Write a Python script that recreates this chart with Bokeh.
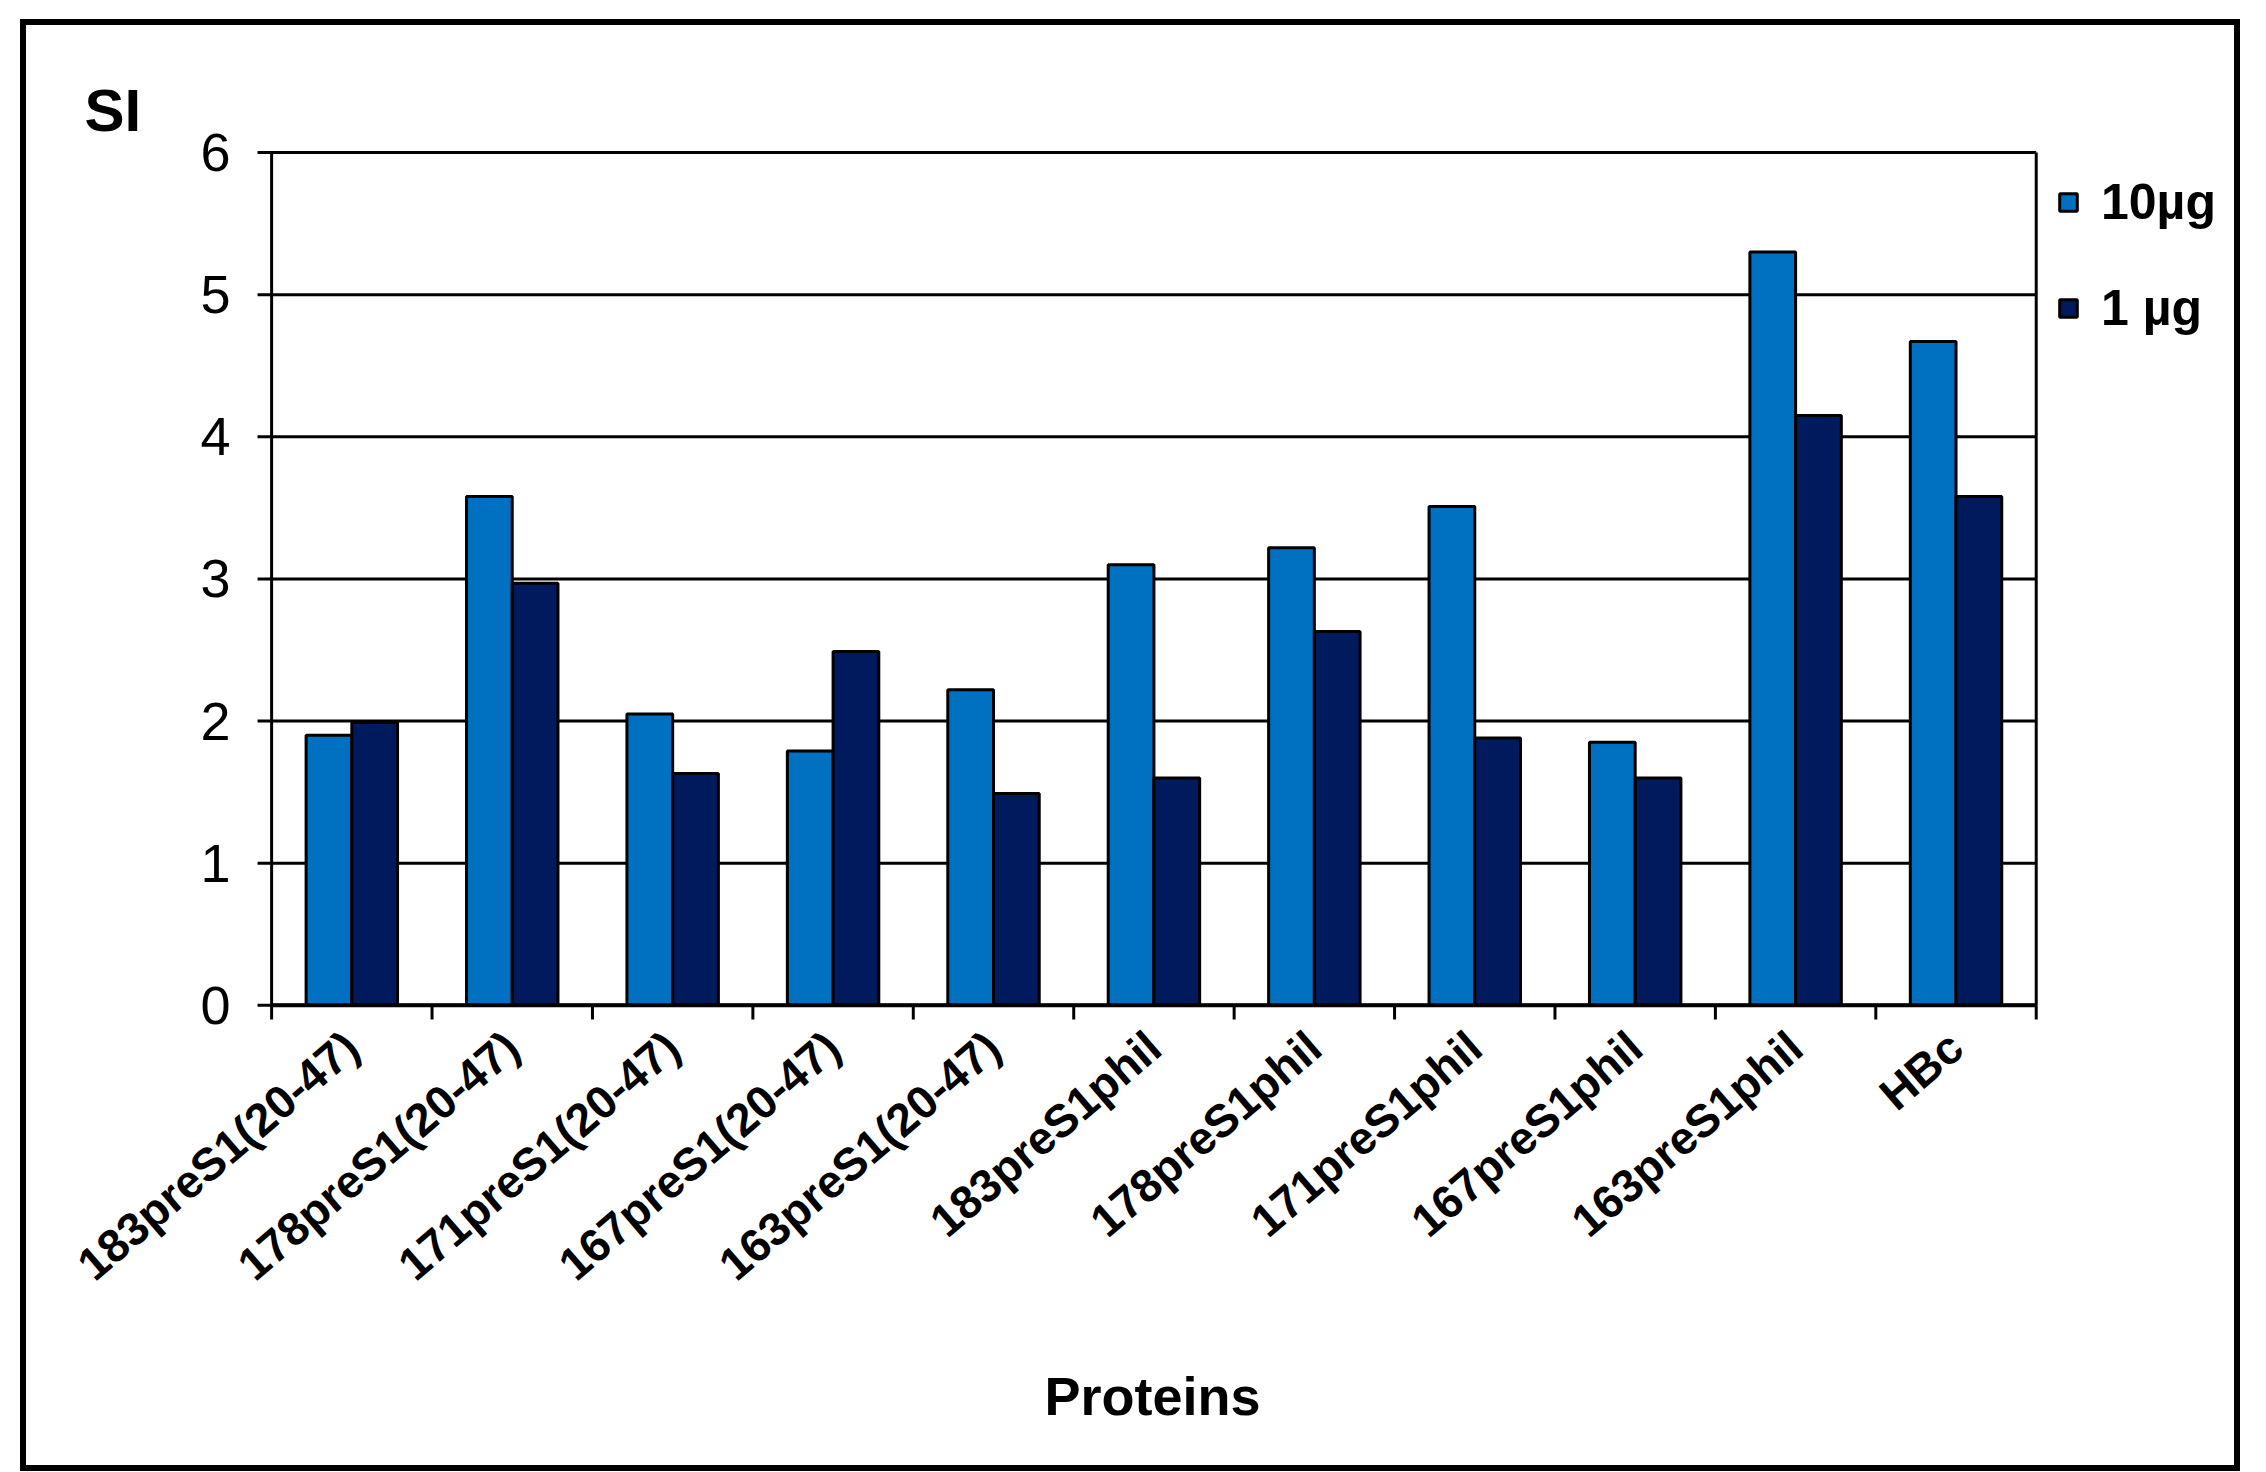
from bokeh.plotting import figure
from bokeh.layouts import column, row
from bokeh.models import (Range1d, LinearAxis, FixedTicker, Legend, LegendItem, Title,
                          ColumnDataSource, Spacer)
from bokeh.transform import dodge
from bokeh.embed import file_html
from bokeh.resources import INLINE

categories = ["183preS1(20-47)", "178preS1(20-47)", "171preS1(20-47)", "167preS1(20-47)",
              "163preS1(20-47)", "183preS1phil", "178preS1phil", "171preS1phil",
              "167preS1phil", "163preS1phil", "HBc"]
si_10ug = [1.90, 3.58, 2.05, 1.79, 2.22, 3.10, 3.22, 3.51, 1.85, 5.30, 4.67]
si_1ug = [1.99, 2.97, 1.63, 2.49, 1.49, 1.60, 2.63, 1.88, 1.60, 4.15, 3.58]
y_ticks = [0, 1, 2, 3, 4, 5, 6]
series_labels = ["10µg", "1 µg"]

FONT = "Liberation Sans"
C10 = "#0070C0"
C1 = "#001A5E"

n = len(categories)
ymax = y_ticks[-1]
centers = [i + 0.5 for i in range(n)]
bounds = list(range(n + 1))

# layout (pixels)
PLOT_W, PLOT_H = 1754, 841           # plot box size
PAD_L, PAD_B = 19, 17                # frame headroom around the plot box
FRAME_W, FRAME_H = 1982, 864
ux = PLOT_W / n                       # px per category
uy = PLOT_H / ymax                    # px per SI unit
x0 = -PAD_L / ux
y0 = -PAD_B / uy
TICK = 14

src = ColumnDataSource(dict(pos=centers, a=si_10ug, b=si_1ug))
grid_src = ColumnDataSource(dict(y=y_ticks, xs=[-TICK / ux] * len(y_ticks), xe=[n] * len(y_ticks)))
tick_src = ColumnDataSource(dict(x=bounds, ys=[0] * len(bounds), ye=[-TICK / uy] * len(bounds)))

p = figure(frame_width=FRAME_W, frame_height=FRAME_H,
           x_range=Range1d(x0, x0 + FRAME_W / ux), y_range=Range1d(y0, y0 + FRAME_H / uy),
           x_axis_location=None, y_axis_location=None,
           output_backend="svg", toolbar_location=None,
           min_border_left=226, min_border_top=121, min_border_right=0, min_border_bottom=437,
           styles={"border": "6px solid black", "box-sizing": "content-box"})

p.outline_line_color = None
p.xgrid.visible = False
p.ygrid.visible = False

# gridlines (with the y tick stubs), plot box, x tick marks
p.segment(x0="xs", x1="xe", y0="y", y1="y", source=grid_src, line_color="black", line_width=3)
p.segment(x0=0, x1=0, y0=0, y1=ymax, line_color="black", line_width=3)
p.segment(x0=n, x1=n, y0=0, y1=ymax, line_color="black", line_width=3)
p.segment(x0="x", x1="x", y0="ys", y1="ye", source=tick_src, line_color="black", line_width=3)

bw = 0.285
r10 = p.vbar(x=dodge("pos", -bw / 2), top="a", width=bw, source=src,
             fill_color=C10, line_color="black", line_width=3)
r1 = p.vbar(x=dodge("pos", bw / 2), top="b", width=bw, source=src,
            fill_color=C1, line_color="black", line_width=3)
p.segment(x0=0, x1=n, y0=0, y1=0, line_color="black", line_width=4)

# "SI" label above the y axis
p.title.text = "SI"
p.title.align = "left"
p.title.offset = -168
p.title.standoff = 5
p.title.text_font = FONT
p.title.text_font_style = "bold"
p.title.text_font_size = "60px"
p.title.text_color = "black"

# y tick labels
yax = LinearAxis(ticker=FixedTicker(ticks=y_ticks))
yax.axis_line_color = None
yax.major_tick_out = 0
yax.major_tick_in = 0
yax.minor_tick_out = 0
yax.minor_tick_in = 0
yax.major_label_text_font = FONT
yax.major_label_text_font_size = "54px"
yax.major_label_text_color = "black"
yax.major_label_standoff = 22
p.add_layout(yax, "left")

# category labels
cax = LinearAxis(ticker=FixedTicker(ticks=centers),
                 major_label_overrides={c: lab for c, lab in zip(centers, categories)})
cax.axis_line_color = None
cax.major_tick_out = 0
cax.major_tick_in = 0
cax.minor_tick_out = 0
cax.minor_tick_in = 0
cax.major_label_orientation = 0.71
cax.major_label_text_font = FONT
cax.major_label_text_font_style = "bold"
cax.major_label_text_font_size = "46px"
cax.major_label_text_color = "black"
cax.major_label_standoff = 18
p.add_layout(cax, "below")

xlabel = Title(text="Proteins", align="left", offset=792, standoff=103,
               text_font=FONT, text_font_style="bold", text_font_size="54px",
               text_color="black")
p.add_layout(xlabel, "below")

legend = Legend(items=[LegendItem(label=series_labels[0], renderers=[r10]),
                       LegendItem(label=series_labels[1], renderers=[r1])],
                location=(1805, 685))
legend.padding = 0
legend.margin = 0
legend.border_line_alpha = 0
legend.background_fill_alpha = 0
legend.glyph_width = 22
legend.glyph_height = 22
legend.label_standoff = 22
legend.spacing = 48
legend.label_text_font = FONT
legend.label_text_font_style = "bold"
legend.label_text_font_size = "50px"
legend.label_text_color = "black"
p.add_layout(legend)

page = column(Spacer(height=19, width=20), row(Spacer(width=20, height=19), p))

open("out.html", "w").write(file_html(page, INLINE))
